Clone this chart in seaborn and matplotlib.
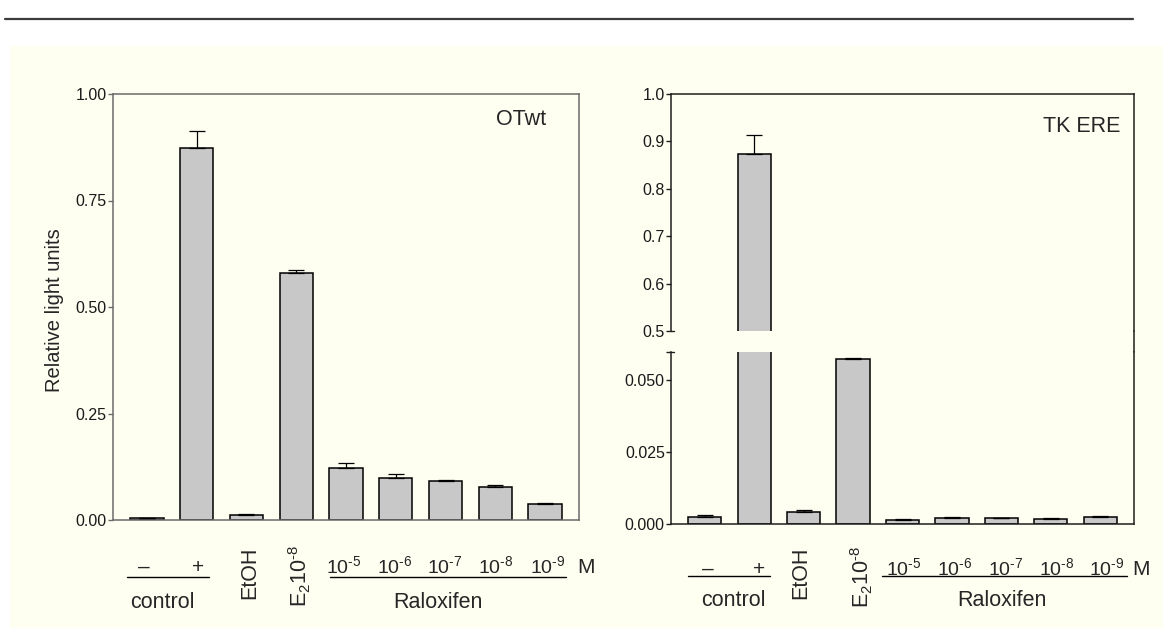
import matplotlib
matplotlib.use("Agg")
import matplotlib.pyplot as plt
from matplotlib.lines import Line2D
from matplotlib.patches import Rectangle
import numpy as np
import pandas as pd
import seaborn as sns

# ---- data -------------------------------------------------------------
conditions = ["ctrl_neg", "ctrl_pos", "EtOH", "E2", "Ral_-5", "Ral_-6",
              "Ral_-7", "Ral_-8", "Ral_-9"]
otwt_mean = [0.004, 0.873, 0.011, 0.580, 0.123, 0.099, 0.091, 0.077, 0.038]
otwt_err = [0.0005, 0.039, 0.002, 0.006, 0.010, 0.009, 0.003, 0.005, 0.001]
tkere_mean = [0.0026, 0.873, 0.0041, 0.0574, 0.0013, 0.0022, 0.0021, 0.0019, 0.0026]
tkere_err = [0.0004, 0.040, 0.0008, 0.0003, 0.0004, 0.0003, 0.0001, 0.0001, 0.0001]

otwt_ticks = [0.0, 0.25, 0.5, 0.75, 1.0]
tkere_upper_ticks = [0.5, 0.6, 0.7, 0.8, 0.9, 1.0]
tkere_lower_ticks = [0.0, 0.025, 0.05]
raloxifen_exponents = [5, 6, 7, 8, 9]

# ---- style ------------------------------------------------------------
sns.set_style("ticks")
plt.rcParams["font.family"] = ["Liberation Sans", "DejaVu Sans"]
plt.rcParams["mathtext.fontset"] = "custom"
plt.rcParams["mathtext.rm"] = "Liberation Sans"
plt.rcParams["mathtext.it"] = "Liberation Sans:italic"
plt.rcParams["mathtext.bf"] = "Liberation Sans:bold"

W, H = 1163, 631
BAR = "#C8C8C8"
CREAM = "#FEFEF1"
GREY_SPINE = "#6a6a6a"
DARK_SPINE = "#1e1e1e"
HYPHEN = "\u2010"


def fx(x):
    return x / W


def fy(y):
    return 1 - y / H


fig = plt.figure(figsize=(W / 100, H / 100), dpi=100)
fig.patch.set_facecolor("white")

# page background and rule
fig.add_artist(Rectangle((fx(10), fy(628)), fx(1163) - fx(10), (628 - 46) / H,
                         transform=fig.transFigure, facecolor=CREAM,
                         edgecolor="none", zorder=-5))
fig.add_artist(Line2D([fx(5), fx(1133)], [fy(19), fy(19)], color="#3c3c3c",
                      lw=1.6, transform=fig.transFigure))


def draw_bars(ax, means, errs):
    df = pd.DataFrame({"condition": conditions, "value": means})
    sns.barplot(data=df, x="condition", y="value", color=BAR, saturation=1,
                edgecolor="black", linewidth=1.1, width=0.67, errorbar=None,
                ax=ax, zorder=2)
    n = len(means)
    ax.errorbar(np.arange(n), means, yerr=[np.zeros(n), errs], fmt="none",
                ecolor="black", elinewidth=0.9, capsize=6, capthick=0.9,
                zorder=3)
    ax.set_xlim(-0.68, 8.68)
    ax.set_xlabel("")
    ax.set_ylabel("")
    ax.set_xticks([])
    ax.set_facecolor("none")


def style_axis(ax, color, ticks, labels):
    for s in ax.spines.values():
        s.set_color(color)
        s.set_linewidth(1.1)
    ax.set_yticks(ticks)
    ax.set_yticklabels(labels)
    ax.tick_params(axis="y", direction="out", length=3.5, width=1.0,
                   color=color, pad=1, labelsize=11.5, labelcolor="#1a1a1a")
    ax.tick_params(axis="x", bottom=False, labelbottom=False)


# ---- left panel: OTwt -------------------------------------------------
axL = fig.add_axes([fx(113), fy(520), (579 - 113) / W, (520 - 94) / H])
draw_bars(axL, otwt_mean, otwt_err)
axL.set_ylim(0, 1.0)
style_axis(axL, GREY_SPINE, otwt_ticks, ["{:.2f}".format(t) for t in otwt_ticks])
fig.text(fx(546), fy(125), "OTwt", ha="right", va="baseline", fontsize=15.5)
fig.text(fx(60), fy(310), "Relative light units", rotation=90,
         rotation_mode="anchor", ha="center", va="baseline", fontsize=14.5)

# ---- right panel: TK ERE (broken axis) --------------------------------
axU = fig.add_axes([fx(671), fy(331.3), (1134 - 671) / W, (331.3 - 94) / H])
axB = fig.add_axes([fx(671), fy(524), (1134 - 671) / W, (524 - 351.7) / H])
draw_bars(axU, tkere_mean, tkere_err)
draw_bars(axB, tkere_mean, tkere_err)
axU.set_ylim(0.5, 1.0)
axB.set_ylim(0, 0.06)
style_axis(axU, DARK_SPINE, tkere_upper_ticks,
           ["{:.1f}".format(t) for t in tkere_upper_ticks])
style_axis(axB, DARK_SPINE, tkere_lower_ticks + [0.06],
           ["{:.3f}".format(t) for t in tkere_lower_ticks] + [""])
axU.spines["bottom"].set_visible(False)
axB.spines["top"].set_visible(False)

# break marks on the left spine and the continuous right spine
axU.plot([0, 3 / 463], [0, 0], transform=axU.transAxes, color=DARK_SPINE,
         lw=1.0, clip_on=False)
axB.plot([0, 3 / 463], [1, 1], transform=axB.transAxes, color=DARK_SPINE,
         lw=1.0, clip_on=False)
fig.add_artist(Line2D([fx(1134), fx(1134)], [fy(331.3), fy(351.7)],
                      color=DARK_SPINE, lw=1.1, transform=fig.transFigure))
fig.text(fx(1120), fy(132), "TK ERE", ha="right", va="baseline", fontsize=15.5)


# ---- group labels beneath the bars ------------------------------------
def group_labels(pos):
    fig.text(fx(pos["minus"]), fy(pos["sign_y"]), "\u2013", ha="center",
             va="baseline", fontsize=15)
    fig.text(fx(pos["plus"]), fy(pos["sign_y"]), "+", ha="center",
             va="baseline", fontsize=15)
    fig.add_artist(Line2D([fx(pos["ctrl_line"][0]), fx(pos["ctrl_line"][1])],
                          [fy(pos["line_y"])] * 2, color="black", lw=1.0,
                          transform=fig.transFigure))
    fig.text(fx(pos["control"]), fy(pos["name_y"]), "control", ha="center",
             va="baseline", fontsize=15.5)
    fig.text(fx(pos["etoh"][0]), fy(pos["etoh"][1]), "EtOH", rotation=90,
             rotation_mode="anchor", ha="center", va="baseline", fontsize=15.5)
    fig.text(fx(pos["e2"][0]), fy(pos["e2"][1]),
             r"$\mathregular{E_{2}10^{%s8}}$" % HYPHEN, rotation=90,
             rotation_mode="anchor", ha="center", va="baseline", fontsize=15.5)
    for cx, e in zip(pos["ral_x"], raloxifen_exponents):
        fig.text(fx(cx), fy(pos["ral_y"]),
                 r"$\mathregular{10^{%s%d}}$" % (HYPHEN, e),
                 ha="center", va="baseline", fontsize=14)
    fig.text(fx(pos["M"]), fy(pos["ral_y"]), "M", ha="center",
             va="baseline", fontsize=15)
    fig.add_artist(Line2D([fx(pos["ral_line"][0]), fx(pos["ral_line"][1])],
                          [fy(pos["line_y"])] * 2, color="black", lw=1.0,
                          transform=fig.transFigure))
    fig.text(fx(pos["raloxifen"]), fy(pos["name_y"]), "Raloxifen",
             ha="center", va="baseline", fontsize=15.5)


group_labels(dict(minus=144, plus=198, sign_y=573, ctrl_line=(127, 209),
                  line_y=577, control=162.5, name_y=608, etoh=(255, 572.5),
                  e2=(307, 576), ral_x=[343.5, 394.5, 445, 496, 547.5],
                  ral_y=573, M=586, ral_line=(330, 566), raloxifen=437.5))
group_labels(dict(minus=708, plus=759, sign_y=575, ctrl_line=(688, 770),
                  line_y=576, control=733.7, name_y=606, etoh=(806.5, 573),
                  e2=(869, 576.5), ral_x=[904, 954.7, 1005.8, 1057, 1107],
                  ral_y=575, M=1141, ral_line=(882, 1127), raloxifen=1001.5))

fig.savefig("out.png", dpi=100, facecolor=fig.get_facecolor())
